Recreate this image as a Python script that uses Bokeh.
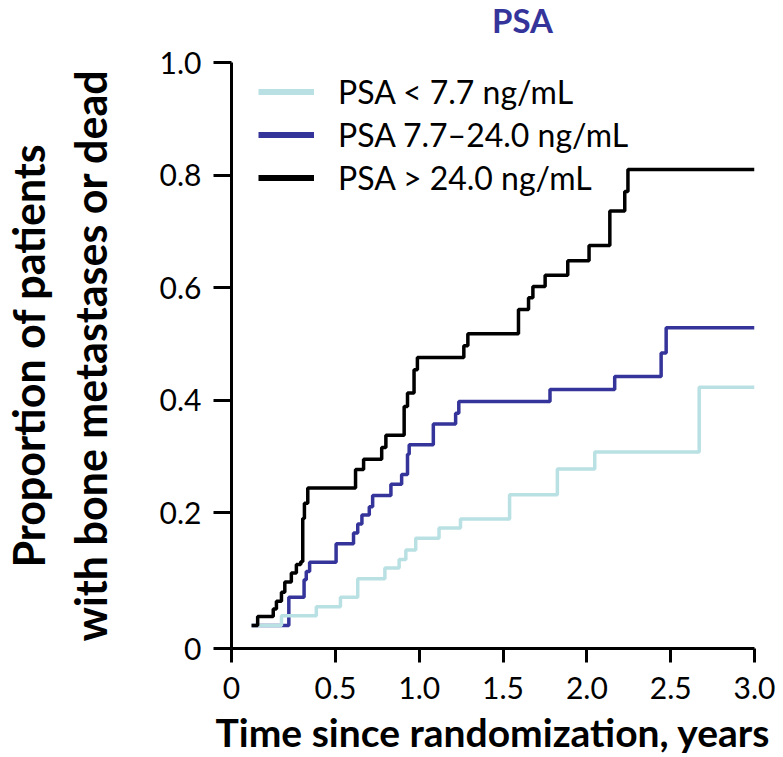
from bokeh.plotting import figure
from bokeh.layouts import column
from bokeh.models import Range1d, FixedTicker, Legend, LegendItem, Div
from bokeh.embed import file_html
from bokeh.resources import INLINE

# ---------------- data ----------------
low_t = [0.0, 0.178, 0.386, 0.53, 0.633, 0.795, 0.88, 0.92, 0.979, 1.118, 1.246, 1.539, 1.824, 2.047, 2.67, 3.0]
low_p = [0.0, 0.017, 0.033, 0.05, 0.083, 0.102, 0.117, 0.134, 0.155, 0.173, 0.189, 0.232, 0.278, 0.308, 0.423, 0.423]

mid_t = [0.0, 0.222, 0.313, 0.326, 0.346, 0.504, 0.608, 0.633, 0.658, 0.702, 0.722, 0.831, 0.895, 0.93, 0.94,
         1.084, 1.217, 1.236, 1.78, 2.166, 2.443, 2.473, 3.0]
mid_p = [0.0, 0.05, 0.081, 0.096, 0.112, 0.145, 0.164, 0.18, 0.196, 0.211, 0.231, 0.251, 0.268, 0.304, 0.321,
         0.358, 0.377, 0.398, 0.419, 0.442, 0.484, 0.529, 0.529]

high_t = [0.0, 0.036, 0.129, 0.148, 0.178, 0.198, 0.237, 0.267, 0.293, 0.305, 0.315, 0.335, 0.62, 0.668, 0.776,
          0.801, 0.91, 0.93, 0.969, 0.989, 1.266, 1.29, 1.592, 1.652, 1.678, 1.751, 1.886, 2.013, 2.137, 2.226,
          2.245, 3.0]
high_p = [0.0, 0.016, 0.029, 0.043, 0.059, 0.077, 0.093, 0.108, 0.113, 0.19, 0.217, 0.244, 0.277, 0.295, 0.316,
          0.338, 0.389, 0.413, 0.454, 0.476, 0.497, 0.518, 0.561, 0.582, 0.602, 0.622, 0.648, 0.675, 0.736, 0.771,
          0.81, 0.81]

series_labels = ["PSA < 7.7 ng/mL", "PSA 7.7\u201324.0 ng/mL", "PSA > 24.0 ng/mL"]

x_ticks = [0.5, 1.0, 1.5, 2.0, 2.5, 3.0]
x_tick_labels = ["0.5", "1.0", "1.5", "2.0", "2.5", "3.0"]
y_ticks = [0.2, 0.4, 0.6, 0.8, 1.0]
y_tick_labels = ["0.2", "0.4", "0.6", "0.8", "1.0"]
origin_label = "0"

title_text = "PSA"
x_label = "Time since randomization, years"
y_label_lines = ["Proportion of patients", "with bone metastases or dead"]

# ---------------- style / layout ----------------
LIGHT = "#b9e0e3"
BLUE = "#34349a"
BLACK = "#000000"
FONT = "Lato"

# axes are drawn offset from the data origin; their corner is labelled "0"
X_CORNER = -0.12
Y_CORNER = -0.041

TITLE_H = 40

title_div = Div(text=title_text, width=780, height=TITLE_H, margin=0,
                styles={"font-family": FONT, "font-weight": "bold", "font-size": "33px",
                        "color": BLUE, "padding-left": "492px", "line-height": "normal",
                        "box-sizing": "border-box"})

p = figure(frame_width=523, frame_height=586,
           x_range=Range1d(X_CORNER, 3.0), y_range=Range1d(Y_CORNER, 1.0),
           output_backend="svg", toolbar_location=None,
           min_border_left=230, min_border_right=27, min_border_top=62 - TITLE_H,
           min_border_bottom=109)
p.title.visible = False
p.title.standoff = 0
p.xgrid.visible = False
p.ygrid.visible = False
p.outline_line_color = None

p.xaxis.ticker = FixedTicker(ticks=[X_CORNER] + x_ticks)
p.yaxis.ticker = FixedTicker(ticks=[Y_CORNER] + y_ticks)
xo = {X_CORNER: origin_label}
xo.update(dict(zip(x_ticks, x_tick_labels)))
yo = {Y_CORNER: origin_label}
yo.update(dict(zip(y_ticks, y_tick_labels)))
p.xaxis.major_label_overrides = xo
p.yaxis.major_label_overrides = yo

for ax in (p.xaxis[0], p.yaxis[0]):
    ax.axis_line_width = 3
    ax.axis_line_color = "black"
    ax.major_tick_line_width = 3
    ax.major_tick_line_color = "black"
    ax.major_tick_in = 0
    ax.minor_tick_line_color = None
    ax.major_label_text_font = FONT
    ax.major_label_text_font_size = "30px"
    ax.major_label_text_color = "black"
    ax.axis_label_text_font = FONT
    ax.axis_label_text_font_style = "bold"
    ax.axis_label_text_color = "black"
p.xaxis.major_tick_out = 14
p.yaxis.major_tick_out = 18
p.xaxis.major_label_standoff = 14
p.yaxis.major_label_standoff = 12
p.xaxis.axis_label = x_label
p.xaxis.axis_label_text_font_size = "39px"
p.xaxis.axis_label_standoff = 7
p.yaxis.axis_label = "\n".join(y_label_lines)
p.yaxis.axis_label_text_font_size = "43px"
p.yaxis.axis_label_standoff = 41
p.yaxis.axis_label_text_line_height = 1.2

# curves (blue first, light blue over it, black on top)
r_mid = p.step(mid_t, mid_p, mode="after", line_color=BLUE, line_width=3.5)
r_low = p.step(low_t, low_p, mode="after", line_color=LIGHT, line_width=3.5)
r_high = p.step(high_t, high_p, mode="after", line_color=BLACK, line_width=3.5)

# legend: proxy lines (first point of each series only) with the reference's thicker samples
series = [(low_t, low_p, LIGHT), (mid_t, mid_p, BLUE), (high_t, high_p, BLACK)]
proxies = [p.line(x=t[:1], y=v[:1], line_color=c, line_width=6) for t, v, c in series]
legend = Legend(items=[LegendItem(label=lab, renderers=[r]) for lab, r in zip(series_labels, proxies)],
                location=(27, 449), padding=0, spacing=0, margin=0,
                glyph_width=56, glyph_height=43, label_height=43, label_standoff=24,
                label_text_font=FONT, label_text_font_size="32px", label_text_color="black",
                border_line_color=None, background_fill_alpha=0)
p.add_layout(legend)

layout = column(title_div, p, spacing=0)
open("out.html", "w").write(file_html(layout, INLINE))
